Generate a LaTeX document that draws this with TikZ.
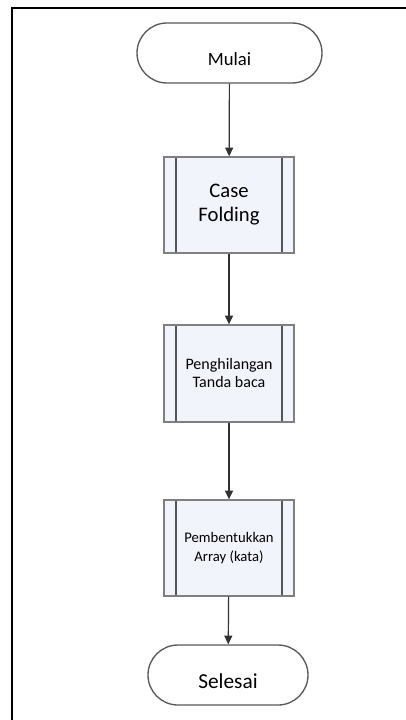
\documentclass[tikz,border=0pt]{standalone}
\usepackage{fontspec}
\setmainfont{Carlito}
\usetikzlibrary{arrows.meta}
\definecolor{termline}{RGB}{89,89,89}
\definecolor{boxline}{RGB}{127,127,127}
\definecolor{barline}{RGB}{85,85,85}
\definecolor{boxfill}{RGB}{242,244,252}
\definecolor{flowline}{RGB}{50,50,50}
\tikzset{
  terminal/.style={draw=termline, line width=1pt, fill=white,
    rounded corners=22.5pt, minimum height=45pt, inner sep=0pt,
    align=center},
  procbox/.style={draw=boxline, line width=1pt, fill=boxfill,
    minimum width=97.5pt, inner sep=0pt, align=center,
    path picture={
      \draw[barline, line width=1pt]
        ([xshift=9pt]path picture bounding box.north west) --
        ([xshift=9pt]path picture bounding box.south west);
      \draw[barline, line width=1pt]
        ([xshift=-9pt]path picture bounding box.north east) --
        ([xshift=-9pt]path picture bounding box.south east);
    }},
  flow/.style={draw=flowline, line width=0.9pt,
    -{Triangle[length=6.5pt, width=6pt]}},
  frameline/.style={draw=black, line width=1.6pt}
}
\begin{document}
\begin{tikzpicture}[x=0.75pt, y=-0.75pt]
  \useasboundingbox (0,0) rectangle (406,720);
  % page frame (top and left edges)
  \draw[frameline] (406,8) -- (12,8) -- (12,720);

  \node[terminal, minimum width=138.75pt, text height=19pt,
        font=\fontsize{14}{16}\selectfont] (start) at (229.5,53) {Mulai};
  \node[procbox, minimum height=72pt,
        font=\fontsize{15.5}{18}\selectfont] (fold) at (229,205) {Case\\Folding};
  \node[procbox, minimum height=72.75pt,
        font=\fontsize{12}{13.5}\selectfont] (punct) at (229,373.5) {Penghilangan\\Tanda baca};
  \node[procbox, minimum height=72pt,
        font=\fontsize{11}{14.5}\selectfont] (array) at (229,548) {Pembentukkan\\Array (kata)};
  \node[terminal, minimum width=120pt, text height=21pt,
        font=\fontsize{16}{18}\selectfont] (stop) at (228,675) {Selesai};

  \draw[flow] (start) -- (fold);
  \draw[flow] (fold) -- (punct);
  \draw[flow] (punct) -- (array);
  \draw[flow] (array) -- (stop);
\end{tikzpicture}
\end{document}
